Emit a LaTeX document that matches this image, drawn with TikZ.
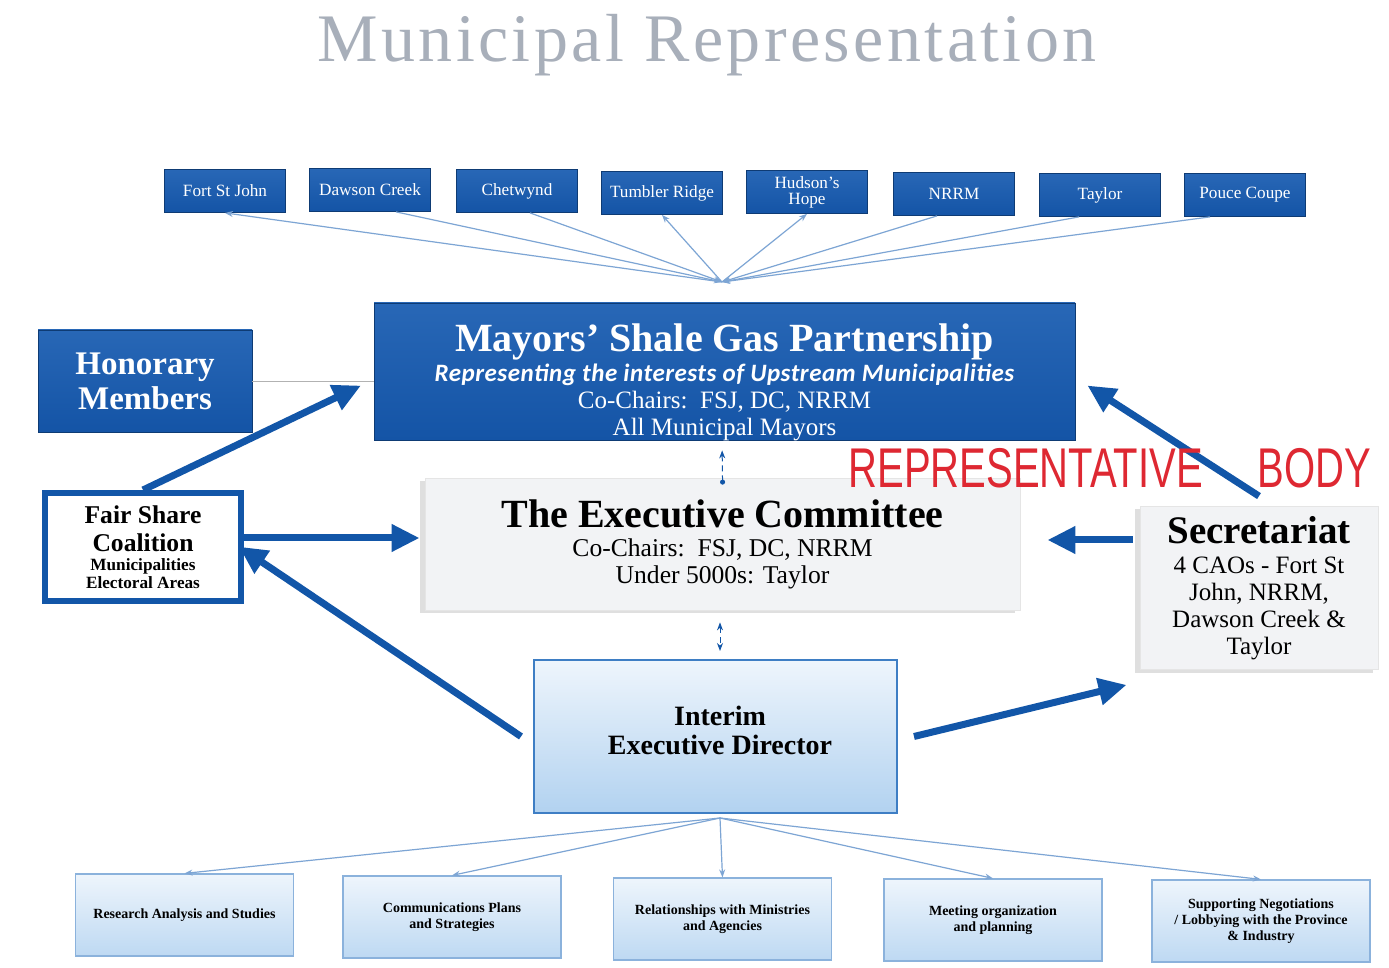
\documentclass[tikz,border=0pt]{standalone}
\usepackage{fontspec}
\setmainfont{Liberation Serif}
\newfontfamily\calfont[LetterSpace=2]{Carlito}
\newfontfamily\titlefont[LetterSpace=5]{Liberation Serif}
\newfontfamily\handfont{Liberation Sans}
\usetikzlibrary{arrows.meta,shadows}

\definecolor{msgblue}{RGB}{20,84,166}
\definecolor{msgtop}{RGB}{40,103,182}
\definecolor{arrowblue}{RGB}{18,86,168}
\definecolor{spokeblue}{RGB}{125,165,212}
\definecolor{titlegray}{RGB}{168,175,186}
\definecolor{lightfill}{RGB}{242,243,245}
\definecolor{edtop}{RGB}{238,245,252}
\definecolor{edbottom}{RGB}{178,210,240}
\definecolor{edline}{RGB}{62,126,196}
\definecolor{handred}{RGB}{222,40,50}

\tikzstyle{townbox} = [draw=msgblue!70!black, line width=0.4pt, top color=msgtop, bottom color=msgblue, text=white, minimum width=60.5pt, minimum height=21.5pt, inner sep=1pt, align=center, font=\fontsize{8.6}{8}\selectfont]
\tikzstyle{bigblue} = [draw=msgblue!70!black, line width=0.4pt, top color=msgtop, bottom color=msgblue, text=white, align=center, inner sep=2pt]
\tikzstyle{greybox} = [fill=lightfill, draw=gray!20, line width=0.4pt, align=center, drop shadow={shadow xshift=-2.5pt, shadow yshift=-1.5pt, opacity=0.25}]
\tikzstyle{edbox} = [top color=edtop, bottom color=edbottom, draw=edline, line width=1pt, align=center]
\tikzstyle{taskbox} = [top color=edtop, bottom color=edbottom!85!white, draw=edline!60, line width=0.6pt, align=center, minimum width=109pt, minimum height=41pt, inner sep=1pt, font=\fontsize{7}{8}\selectfont\bfseries]
\tikzstyle{spoke} = [draw=spokeblue, line width=0.6pt, -{Stealth[length=4pt,width=3pt]}]
\tikzstyle{fat} = [draw=arrowblue, line width=3.5pt, -{Triangle[length=14pt,width=13pt]}]
\tikzstyle{dots} = [draw=arrowblue, densely dashed, line width=0.5pt]

\begin{document}
\begin{tikzpicture}[x=0.5pt, y=-0.5pt]
  \fill[white] (0,0) rectangle (1389,968);
  \useasboundingbox (0,0) rectangle (1389,968);

  \node[text=titlegray, font=\titlefont\fontsize{34}{36}\selectfont] (title) at (707,45) {Municipal Representation};

  % member municipalities
  \node[townbox] (t1) at (225,191) {Fort St John};
  \node[townbox] (t2) at (370,190) {Dawson Creek};
  \node[townbox] (t3) at (517,191) {Chetwynd};
  \node[townbox] (t4) at (662,193) {Tumbler Ridge};
  \node[townbox] (t5) at (807,192) {Hudson’s\\Hope};
  \node[townbox] (t6) at (954,194) {NRRM};
  \node[townbox] (t7) at (1100,195) {Taylor};
  \node[townbox] (t8) at (1245,195) {Pouce Coupe};

  \coordinate (mhub) at (722,282);
  \draw[spoke, {Stealth[length=4pt,width=3pt]}-] (t1.south) -- (mhub);
  \draw[spoke] ([xshift=13pt]t2.south) -- (mhub);
  \draw[spoke] ([xshift=6.5pt]t3.south) -- (mhub);
  \draw[spoke, {Stealth[length=4pt,width=3pt]}-] (t4.south) -- (mhub);
  \draw[spoke, {Stealth[length=4pt,width=3pt]}-] (t5.south) -- (mhub);
  \draw[spoke] ([xshift=-8.5pt]t6.south) -- (mhub);
  \draw[spoke] ([xshift=-10.5pt]t7.south) -- (mhub);
  \draw[spoke] ([xshift=-17.5pt]t8.south) -- (mhub);

  % main bodies
  \node[bigblue, minimum width=350.5pt, minimum height=68.5pt] (msg) at (724.5,371.5) {};
  \node[text=white, align=center, font=\fontsize{12.5}{13.5}\selectfont] (msgtext) at (724.5,382)
    {{\fontsize{20}{13.5}\selectfont\bfseries Mayors’ Shale Gas Partnership}\\[1.5pt]
     {\calfont\fontsize{12.5}{13.5}\selectfont\bfseries\itshape Representing the interests of Upstream Municipalities}\\
     Co-Chairs:\ \ FSJ, DC, NRRM\\
     All Municipal Mayors};
  \node[bigblue, minimum width=107pt, minimum height=51pt, font=\fontsize{16.5}{17.5}\selectfont\bfseries] (hon) at (145,381)
    {Honorary\\Members};
  \node[draw=arrowblue, line width=3pt, fill=white, align=center, minimum width=98pt, minimum height=54pt, inner sep=1pt, font=\fontsize{8.6}{9}\selectfont\bfseries] (fsc) at (143,547)
    {{\fontsize{12.8}{9}\selectfont Fair Share}\\[4pt]
     {\fontsize{12.8}{9}\selectfont Coalition}\\[0.5pt]
     Municipalities\\Electoral Areas};
  \node[greybox, minimum width=297.5pt, minimum height=66pt, font=\fontsize{12.8}{13.5}\selectfont] (exc) at (722.5,544)
    {{\fontsize{20}{13.5}\selectfont\bfseries The Executive Committee}\\[1pt]
     Co-Chairs:\ \ FSJ, DC, NRRM\\
     Under 5000s: Taylor};
  \node[greybox, minimum width=119pt, minimum height=81.5pt, font=\fontsize{12.5}{13.5}\selectfont] (sec) at (1259,588)
    {{\fontsize{19.5}{13.5}\selectfont\bfseries Secretariat}\\[1.5pt]
     4 CAOs - Fort St\\John, NRRM,\\Dawson Creek \&\\Taylor};
  \node[edbox, minimum width=181.5pt, minimum height=76.5pt] (ied) at (715.5,736.5) {};
  \node[align=center, font=\fontsize{14}{14.5}\selectfont\bfseries] (iedtext) at (720,730)
    {Interim\\Executive Director};

  % tasks of the director
  \node[taskbox] (b1) at (184.5,915) {Research Analysis and Studies};
  \node[taskbox] (b2) at (452,917) {Communications Plans\\and Strategies};
  \node[taskbox] (b3) at (722.5,919) {Relationships with Ministries\\and Agencies};
  \node[taskbox] (b4) at (993,920) {Meeting organization\\and planning};
  \node[taskbox] (b5) at (1261,921) {Supporting Negotiations\\/ Lobbying with the Province\\\& Industry};

  \coordinate (edhub) at (720,818);
  \draw[spoke] (edhub) -- (b1.north);
  \draw[spoke] (edhub) -- (b2.north);
  \draw[spoke] (edhub) -- (b3.north);
  \draw[spoke] (edhub) -- (b4.north);
  \draw[spoke] (edhub) -- (b5.north);

  % links between bodies
  \draw[gray!60, line width=0.4pt] (hon.east) -- (hon.east -| msg.west);
  \draw[fat, shorten >=7pt] (fsc.north) -- ([yshift=-4pt]msg.west);
  \draw[fat, shorten >=2.5pt] ([yshift=4.5pt]fsc.east) -- ([yshift=3pt]exc.west);
  \draw[fat, shorten >=-3pt] ([xshift=-6pt]ied.west) -- ([yshift=-1.5pt]fsc.east);
  \draw[fat] ([xshift=8pt]ied.east) -- ([xshift=-6.5pt,yshift=-7.5pt]sec.south west);
  \draw[fat] ([yshift=5pt]sec.north) -- ([xshift=6pt,yshift=-7pt]msg.east);
  \draw[fat] ([xshift=-3.5pt,yshift=24pt]sec.west) -- ([xshift=13.5pt,yshift=2pt]exc.east);

  \draw[dots, {Stealth[length=4pt,width=3pt]}-{Circle[length=2.5pt]}, shorten <=5pt, shorten >=-3.5pt] ([xshift=-1.25pt]msg.south) -- (exc.north);
  \draw[dots, {Stealth[length=4pt,width=3pt]}-{Stealth[length=4pt,width=3pt]}, shorten <=6pt, shorten >=4pt] ([xshift=-1.25pt]exc.south) -- ([xshift=2.25pt]ied.north);

  % handwritten note
  \node[text=handred, font=\handfont\fontsize{20}{22}\selectfont] (note) at (1110,468)
    {\scalebox{1}[1.4]{REPRESENTATIVE\hspace{27.5pt}BODY}};
\end{tikzpicture}
\end{document}
